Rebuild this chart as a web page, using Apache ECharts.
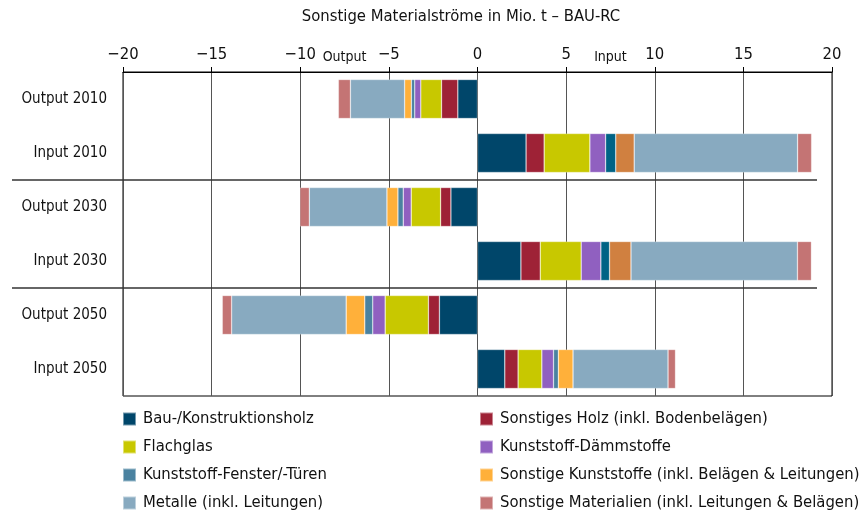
<!DOCTYPE html>
<html>
<head>
<meta charset="utf-8">
<script src="https://cdn.jsdelivr.net/npm/echarts@6/dist/echarts.min.js"></script>
<style>html,body{margin:0;padding:0;background:#fff}#c{width:866px;height:515px}</style>
</head>
<body>
<div id="c"></div>
<script>
const categories = ['Output 2010','Input 2010','Output 2030','Input 2030','Output 2050','Input 2050'];
const bau      = [-1.11, 2.74, -1.50, 2.45, -2.15, 1.54];
const holz     = [-0.92, 1.02, -0.58, 1.09, -0.62, 0.75];
const flachglas= [-1.17, 2.58, -1.66, 2.31, -2.44, 1.34];
const daemm    = [-0.34, 0.89, -0.45, 1.11, -0.70, 0.66];
const fenster  = [-0.19, 0.57, -0.30, 0.49, -0.45, 0.27];
const sonstK   = [-0.38, 1.04, -0.62, 1.21, -1.05, 0.83];
const metalle  = [-3.06, 9.22, -4.38, 9.39, -6.46, 5.36];
const sonstMat = [-0.68, 0.79, -0.53, 0.79, -0.53, 0.42];
const xMin = -20, xMax = 20, xInterval = 5;

const FONT = '"Liberation Sans Narrow","DejaVu Sans Condensed",sans-serif';
const names = ['Bau-/Konstruktionsholz','Sonstiges Holz (inkl. Bodenbelägen)','Flachglas','Kunststoff-Dämmstoffe',
  'Kunststoff-Fenster/-Türen','Sonstige Kunststoffe (inkl. Belägen & Leitungen)','Metalle (inkl. Leitungen)',
  'Sonstige Materialien (inkl. Leitungen & Belägen)'];
const colors = ['#00466A','#9E2236','#C8C800','#9060C0','#4A82A0','#FFB03A','#88AAC0','#C47474'];
// input 2010 / 2030 use darker variants for these two
const altColors = {4:'#006385', 5:'#D08040'};
const values = [bau, holz, flachglas, daemm, fenster, sonstK, metalle, sonstMat];

const series = values.map((arr, i) => ({
  name: names[i],
  type: 'bar',
  stack: 'total',
  barWidth: 39,
  itemStyle: {color: colors[i], borderColor: 'rgba(255,255,255,0.45)', borderWidth: 0.6},
  data: arr.map((v, j) => (altColors[i] && (j === 1 || j === 3)) ? {value: v, itemStyle: {color: altColors[i]}} : v)
}));

const legendText = {fontFamily: FONT, fontSize: 16.5, color: '#111', lineHeight: 18, padding: [0,0,0,2]};
const chart = echarts.init(document.getElementById('c'));
chart.setOption({
  animation: false,
  backgroundColor: '#fff',
  grid: {left: 123, right: 34, top: 72, bottom: 119, show: true, borderColor: '#000', borderWidth: 1, containLabel: false},
  xAxis: {
    type: 'value', position: 'top', min: xMin, max: xMax, interval: xInterval,
    axisLine: {show: true, lineStyle: {color: '#000', width: 1}},
    axisTick: {show: true, length: 5, inside: false, lineStyle: {color: '#000'}},
    axisLabel: {color: '#111', fontFamily: FONT, fontSize: 16.5, margin: 9,
      formatter: v => v < 0 ? '\u2212' + Math.abs(v) : String(v)},
    splitLine: {show: true, lineStyle: {color: '#555', width: 1}}
  },
  yAxis: {
    type: 'category', inverse: true, data: categories,
    axisLine: {show: false}, axisTick: {show: false},
    axisLabel: {color: '#111', fontFamily: FONT, fontSize: 15, margin: 16}
  },
  legend: [
    {data: [names[0], names[2], names[4], names[6]], orient: 'vertical', left: 122, top: 410, height: 105,
     itemWidth: 13, itemHeight: 13, itemGap: 10, padding: 0, icon: 'rect', textStyle: legendText},
    {data: [names[1], names[3], names[5], names[7]], orient: 'vertical', left: 479, top: 410, height: 105,
     itemWidth: 13, itemHeight: 13, itemGap: 10, padding: 0, icon: 'rect', textStyle: legendText}
  ],
  series: series
});

const y1 = chart.convertToPixel({yAxisIndex: 0}, categories[1]);
const y2 = chart.convertToPixel({yAxisIndex: 0}, categories[2]);
const y3 = chart.convertToPixel({yAxisIndex: 0}, categories[3]);
const y4 = chart.convertToPixel({yAxisIndex: 0}, categories[4]);
const sepA = (y1 + y2) / 2, sepB = (y3 + y4) / 2;
const xOut = chart.convertToPixel({xAxisIndex: 0}, -7.5);
const xIn = chart.convertToPixel({xAxisIndex: 0}, 7.5);
chart.setOption({
  graphic: [
    {type: 'text', x: 461, y: 17, style: {text: 'Sonstige Materialströme in Mio. t \u2013 BAU-RC', font: '16.5px ' + FONT, fill: '#111', align: 'center', verticalAlign: 'middle'}},
    {type: 'text', x: xOut, y: 57, style: {text: 'Output', font: '14px ' + FONT, fill: '#111', align: 'center', verticalAlign: 'middle'}},
    {type: 'text', x: xIn, y: 57, style: {text: 'Input', font: '14px ' + FONT, fill: '#111', align: 'center', verticalAlign: 'middle'}},
    {type: 'line', shape: {x1: 12, y1: sepA, x2: 817, y2: sepA}, style: {stroke: '#333', lineWidth: 1.3}, z: 100},
    {type: 'line', shape: {x1: 12, y1: sepB, x2: 817, y2: sepB}, style: {stroke: '#333', lineWidth: 1.3}, z: 100}
  ]
});
</script>
</body>
</html>
